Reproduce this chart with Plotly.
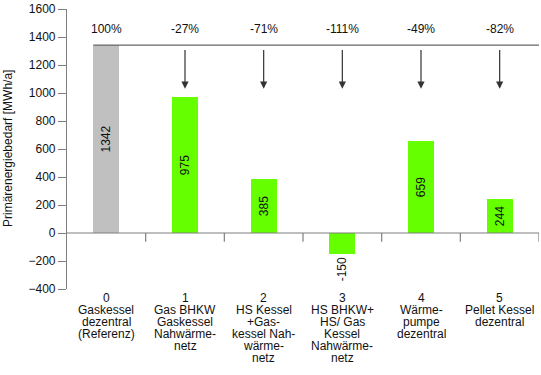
import plotly.graph_objects as go

categories = [0, 1, 2, 3, 4, 5]
values = [1342, 975, 385, -150, 659, 244]
pct_labels = ["100%", "-27%", "-71%", "-111%", "-49%", "-82%"]
cat_labels = [
    ["0", "Gaskessel", "dezentral", "(Referenz)"],
    ["1", "Gas BHKW", "Gaskessel", "Nahwärme-", "netz"],
    ["2", "HS Kessel", "+Gas-", "kessel Nah-", "wärme-", "netz"],
    ["3", "HS BHKW+", "HS/ Gas", "Kessel", "Nahwärme-", "netz"],
    ["4", "Wärme-", "pumpe", "dezentral"],
    ["5", "Pellet Kessel", "dezentral"],
]
y_ticks = [-400, -200, 0, 200, 400, 600, 800, 1000, 1200, 1400, 1600]

FONT = "Liberation Sans, Arial, sans-serif"
AXC = "#7f7f7f"
colors = ["#c0c0c0"] + ["#66ff00"] * 5
textpos = ["inside" if v > 0 else "outside" for v in values]

fig = go.Figure()
fig.add_trace(go.Bar(
    x=categories, y=values, width=0.33, marker=dict(color=colors, line=dict(width=0)),
    text=[str(v) for v in values], textposition=textpos, textangle=-90,
    insidetextanchor="middle", textfont=dict(size=12, color="#111", family=FONT),
    cliponaxis=False, showlegend=False, hoverinfo="skip",
))

shapes = []
# zero line
shapes.append(dict(type="line", xref="x", yref="y", x0=-0.5, x1=5.5, y0=0, y1=0,
                   line=dict(color=AXC, width=1.2)))
# category boundary ticks
for b in [0.5, 1.5, 2.5, 3.5, 4.5, 5.5]:
    shapes.append(dict(type="line", xref="x", yref="y", x0=b, x1=b, y0=0, y1=-62,
                       line=dict(color=AXC, width=1.2)))
# reference line at baseline value
shapes.append(dict(type="line", xref="x", yref="y", x0=-0.165, x1=5.5,
                   y0=values[0], y1=values[0], line=dict(color="#666", width=1.2)))

annotations = []
for i, c in enumerate(categories):
    annotations.append(dict(x=c, y=1457, xref="x", yref="y", text=pct_labels[i],
                            showarrow=False, yanchor="middle",
                            font=dict(size=12, color="#111", family=FONT)))
    if i > 0:
        annotations.append(dict(x=c, y=1030, xref="x", yref="y", ax=c, ay=1318,
                                axref="x", ayref="y", text="", showarrow=True,
                                arrowhead=2, arrowsize=1.2, arrowwidth=1.2,
                                arrowcolor="#333"))
    for k, line in enumerate(cat_labels[i]):
        annotations.append(dict(x=c, y=0, xref="x", yref="paper", yanchor="top",
                                yshift=-k * 11.9, text=line, showarrow=False,
                                font=dict(size=12, color="#111", family=FONT)))

annotations.append(dict(x=0, y=0.5, xref="paper", yref="paper", xshift=-59,
                        text="Primärenergiebedarf [MWh/a]", textangle=-90,
                        showarrow=False, xanchor="center", yanchor="middle",
                        font=dict(size=12, color="#111", family=FONT)))

fig.update_layout(
    width=541, height=375,
    margin=dict(l=67, r=2, t=9, b=86),
    paper_bgcolor="white", plot_bgcolor="white",
    font=dict(family=FONT, size=12, color="#111"),
    xaxis=dict(range=[-0.5, 5.5], showticklabels=False, showgrid=False,
               zeroline=False, showline=False, ticks=""),
    yaxis=dict(range=[-400, 1600], tickvals=y_ticks, showgrid=False, zeroline=False,
               showline=True, linecolor=AXC, linewidth=1.2, ticks="outside",
               ticklen=8, tickcolor=AXC, tickwidth=1.2,
               tickfont=dict(size=12, color="#111", family=FONT)),
    shapes=shapes, annotations=annotations, bargap=0,
)

fig.write_html("out.html", config={"displayModeBar": False},
               post_script="document.body.style.margin='0';document.body.style.padding='0';")
